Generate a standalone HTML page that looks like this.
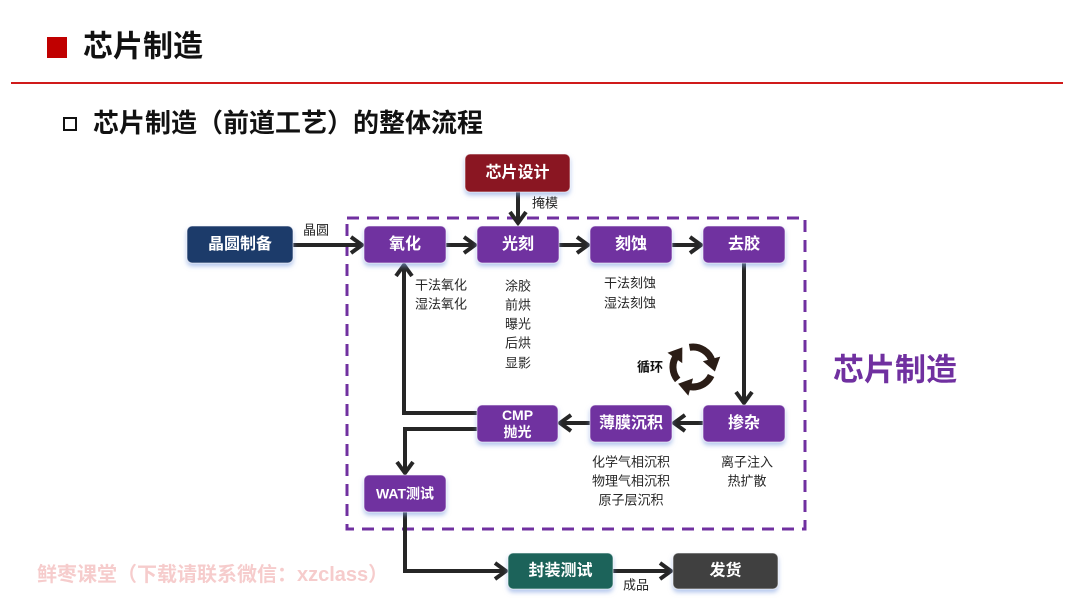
<!DOCTYPE html>
<html><head><meta charset="utf-8"><style>
html,body{margin:0;padding:0;background:#fff;}
body{width:1080px;height:608px;overflow:hidden;position:relative;}
svg{position:absolute;left:0;top:0;}
text{font-family:"Liberation Sans","Noto Sans CJK SC",sans-serif;}
</style></head><body>
<svg width="1080" height="608" viewBox="0 0 1080 608" xmlns="http://www.w3.org/2000/svg">
<defs>
<marker id="a" markerUnits="userSpaceOnUse" markerWidth="20" markerHeight="20" viewBox="0 0 20 20" refX="13" refY="10" orient="auto" overflow="visible">
<path d="M2,2 L13,10 L2,18" fill="none" stroke="#262626" stroke-width="4" stroke-linejoin="miter" stroke-linecap="butt"/>
</marker>
<marker id="c" markerUnits="userSpaceOnUse" markerWidth="18" markerHeight="18" viewBox="0 0 18 18" refX="3" refY="9" orient="auto" overflow="visible">
<path d="M0,0 L13,9 L0,18 Z" fill="#2b1d16"/>
</marker>
<filter id="s" x="-20%" y="-30%" width="140%" height="180%">
<feDropShadow dx="0" dy="3" stdDeviation="2.5" flood-color="#7f9fe0" flood-opacity="0.6"/>
</filter>
</defs>

<!-- header -->
<rect x="47" y="37" width="20" height="21" fill="#c00000"/>
<text x="83" y="47" font-size="30" font-weight="bold" fill="#111" dominant-baseline="central">芯片制造</text>
<rect x="11" y="82" width="1052" height="2" fill="#d01a1a"/>
<rect x="64" y="118" width="12" height="12" fill="none" stroke="#111" stroke-width="2"/>
<text x="93" y="123" font-size="26" font-weight="bold" fill="#111" dominant-baseline="central">芯片制造（前道工艺）的整体流程</text>

<!-- dashed frame -->
<rect x="347" y="218" width="458" height="311" fill="none" stroke="#7030a0" stroke-width="3" stroke-dasharray="12 8"/>

<!-- connectors -->
<g fill="none" stroke="#262626" stroke-width="4">
<path d="M293,245 H362" marker-end="url(#a)"/>
<path d="M446,245 H475" marker-end="url(#a)"/>
<path d="M559,245 H588" marker-end="url(#a)"/>
<path d="M672,245 H701" marker-end="url(#a)"/>
<path d="M518,192 V223" marker-end="url(#a)"/>
<path d="M744,263 V403" marker-end="url(#a)"/>
<path d="M703,423 H674" marker-end="url(#a)"/>
<path d="M590,423 H560" marker-end="url(#a)"/>
<path d="M477,413 H404 V265" marker-end="url(#a)"/>
<path d="M477,429 H405 V473" marker-end="url(#a)"/>
<path d="M405,512 V571 H506" marker-end="url(#a)"/>
<path d="M613,571 H671" marker-end="url(#a)"/>
</g>

<!-- boxes -->
<g filter="url(#s)" stroke="rgba(255,255,255,0.55)" stroke-width="1">
<rect x="465" y="154" width="105" height="38" rx="5" fill="#8a1722"/>
<rect x="187" y="226" width="106" height="37" rx="5" fill="#1f3a6b"/>
<rect x="364" y="226" width="82" height="37" rx="5" fill="#7030a0"/>
<rect x="477" y="226" width="82" height="37" rx="5" fill="#7030a0"/>
<rect x="590" y="226" width="82" height="37" rx="5" fill="#7030a0"/>
<rect x="703" y="226" width="82" height="37" rx="5" fill="#7030a0"/>
<rect x="703" y="405" width="82" height="37" rx="5" fill="#7030a0"/>
<rect x="590" y="405" width="82" height="37" rx="5" fill="#7030a0"/>
<rect x="477" y="405" width="81" height="37" rx="5" fill="#7030a0"/>
<rect x="364" y="475" width="82" height="37" rx="5" fill="#7030a0"/>
<rect x="508" y="553" width="105" height="36" rx="5" fill="#1a645a"/>
<rect x="673" y="553" width="105" height="36" rx="5" fill="#404040"/>
</g>

<g fill="#fff" font-weight="bold" text-anchor="middle" dominant-baseline="central" font-size="16">
<text x="517.5" y="173">芯片设计</text>
<text x="240" y="244.5">晶圆制备</text>
<text x="405" y="244.5">氧化</text>
<text x="518" y="244.5">光刻</text>
<text x="631" y="244.5">刻蚀</text>
<text x="744" y="244.5">去胶</text>
<text x="744" y="423.5">掺杂</text>
<text x="631" y="423.5">薄膜沉积</text>
<text x="517.5" y="415" font-size="14">CMP</text>
<text x="517.5" y="432" font-size="14">抛光</text>
<text x="405" y="493.5" font-size="14">WAT测试</text>
<text x="560.5" y="571">封装测试</text>
<text x="725.5" y="571">发货</text>
</g>

<!-- labels -->
<g fill="#262626" font-size="13" dominant-baseline="central">
<text x="316" y="230" text-anchor="middle">晶圆</text>
<text x="545" y="203" text-anchor="middle">掩模</text>
<text x="636" y="585" text-anchor="middle">成品</text>
<text x="415" y="285">干法氧化</text>
<text x="415" y="304">湿法氧化</text>
<text x="518" y="286" text-anchor="middle">涂胶</text>
<text x="518" y="305" text-anchor="middle">前烘</text>
<text x="518" y="324" text-anchor="middle">曝光</text>
<text x="518" y="343" text-anchor="middle">后烘</text>
<text x="518" y="363" text-anchor="middle">显影</text>
<text x="630" y="283" text-anchor="middle">干法刻蚀</text>
<text x="630" y="303" text-anchor="middle">湿法刻蚀</text>
<text x="631" y="462" text-anchor="middle">化学气相沉积</text>
<text x="631" y="481" text-anchor="middle">物理气相沉积</text>
<text x="631" y="500" text-anchor="middle">原子层沉积</text>
<text x="747" y="462" text-anchor="middle">离子注入</text>
<text x="747" y="481" text-anchor="middle">热扩散</text>
<text x="650" y="367" text-anchor="middle" font-weight="bold" fill="#111">循环</text>
</g>

<!-- cycle icon -->
<g fill="none" stroke="#2b1d16" stroke-width="7">
<path d="M689.5,347.3 A20,20 0 0 1 712.3,361.8" marker-end="url(#c)"/>
<path d="M711.1,375.5 A20,20 0 0 1 687.8,386.3" marker-end="url(#c)"/>
<path d="M677.7,379.9 A20,20 0 0 1 676.6,355.5" marker-end="url(#c)"/>
</g>

<text x="895" y="370" font-size="31" font-weight="bold" fill="#7030a0" text-anchor="middle" dominant-baseline="central">芯片制造</text>

<text x="37" y="575" font-size="20" font-weight="bold" fill="#f6cccc" dominant-baseline="central">鲜枣课堂（下载请联系微信：xzclass）</text>
</svg>
</body></html>
